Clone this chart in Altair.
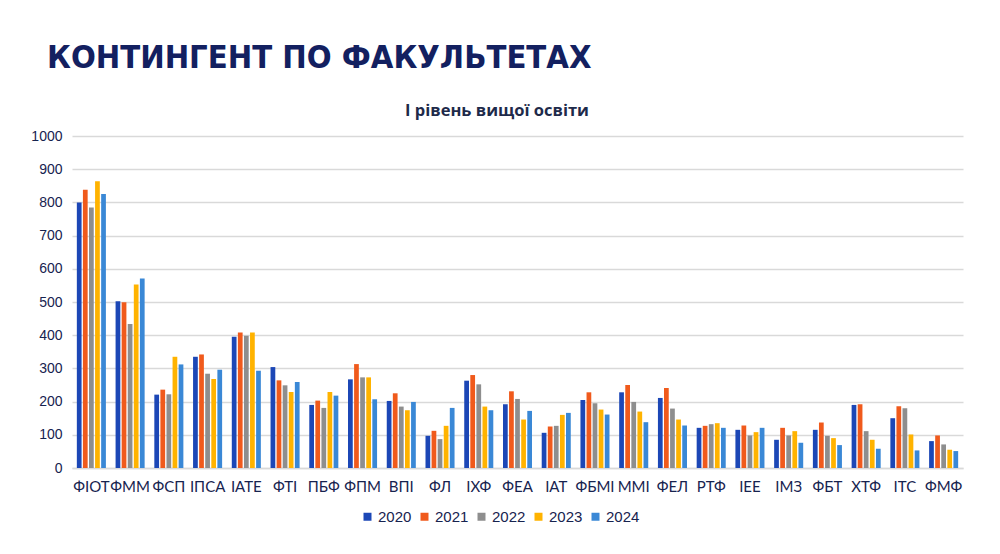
import altair as alt
import pandas as pd

faculties = ["ФІОТ", "ФММ", "ФСП", "ІПСА", "ІАТЕ", "ФТІ", "ПБФ", "ФПМ", "ВПІ", "ФЛ", "ІХФ", "ФЕА",
             "ІАТ", "ФБМІ", "ММІ", "ФЕЛ", "РТФ", "ІЕЕ", "ІМЗ", "ФБТ", "ХТФ", "ІТС", "ФМФ"]
years = ["2020", "2021", "2022", "2023", "2024"]
v2020 = [800, 502, 221, 335, 395, 304, 190, 267, 202, 97, 263, 192, 106, 205, 228, 211, 121, 115, 85, 115, 190, 150, 81]
v2021 = [838, 499, 236, 342, 408, 264, 203, 313, 225, 112, 280, 231, 125, 228, 250, 241, 127, 128, 121, 137, 192, 186, 98]
v2022 = [785, 434, 222, 284, 398, 249, 181, 273, 185, 87, 252, 208, 127, 195, 199, 179, 132, 98, 98, 97, 111, 180, 71]
v2023 = [864, 553, 335, 268, 408, 229, 229, 273, 174, 127, 185, 146, 160, 176, 170, 146, 135, 108, 111, 90, 85, 101, 55]
v2024 = [825, 571, 312, 296, 293, 259, 218, 207, 199, 181, 174, 172, 166, 161, 138, 128, 121, 121, 76, 69, 58, 53, 51]
colors = ["#1c47b6", "#f05a1c", "#8e8e8e", "#ffb300", "#3a88d6"]

heading = "КОНТИНГЕНТ ПО ФАКУЛЬТЕТАХ"
subtitle = "І рівень вищої освіти"

series = [v2020, v2021, v2022, v2023, v2024]
rows = []
for y, vals in zip(years, series):
    for f, v in zip(faculties, vals):
        rows.append({"faculty": f, "year": y, "value": v})
df = pd.DataFrame(rows)

navy = "#17234f"

bars = alt.Chart(df).mark_bar().encode(
    x=alt.X("faculty:N", sort=faculties, title=None,
            scale=alt.Scale(paddingInner=0.25, paddingOuter=0.125),
            axis=alt.Axis(labelAngle=0, ticks=False, domain=True, domainColor="#d9d9d9",
                          domainWidth=1.5, labelPadding=11, labelFont="Lato", labelFontSize=15,
                          labelColor=navy, grid=False)),
    xOffset=alt.XOffset("year:N", sort=years, scale=alt.Scale(paddingInner=0.22, paddingOuter=0)),
    y=alt.Y("value:Q", title=None, scale=alt.Scale(domain=[0, 1000]),
            axis=alt.Axis(values=list(range(0, 1001, 100)), format="d", grid=True, gridColor="#d9d9d9",
                          gridWidth=1.5, domain=False, ticks=False, labelPadding=10,
                          labelFont="Liberation Sans", labelFontSize=14, labelColor=navy)),
    color=alt.Color("year:N", sort=years, scale=alt.Scale(domain=years, range=colors),
                    legend=alt.Legend(title=None, orient="none", direction="horizontal",
                                      legendX=288, legendY=373, symbolType="square",
                                      symbolSize=64, symbolStrokeWidth=0, labelFont="Liberation Sans",
                                      labelFontSize=15, labelColor=navy, labelOffset=3,
                                      columnPadding=5)),
)

head_df = pd.DataFrame({"t": [heading]})
head = alt.Chart(head_df).mark_text(
    align="left", baseline="alphabetic", font="DejaVu Sans Condensed", fontWeight="bold",
    fontSize=32.5, color="#132060"
).encode(text="t:N", x=alt.value(-25), y=alt.value(-68))

sub_df = pd.DataFrame({"t": [subtitle]})
sub = alt.Chart(sub_df).mark_text(
    align="center", baseline="alphabetic", font="Open Sans", fontWeight="bold",
    fontSize=16.5, color="#1e2a4a"
).encode(text="t:N", x=alt.value(425), y=alt.value(-20))

chart = alt.layer(bars, head, sub).properties(
    width=891, height=332,
    autosize=alt.AutoSizeParams(type="none"),
    padding={"left": 64, "top": 128, "right": 25, "bottom": 70},
).configure_view(stroke=None)

chart.save("out.html", embed_options={"renderer": "svg", "actions": False})
